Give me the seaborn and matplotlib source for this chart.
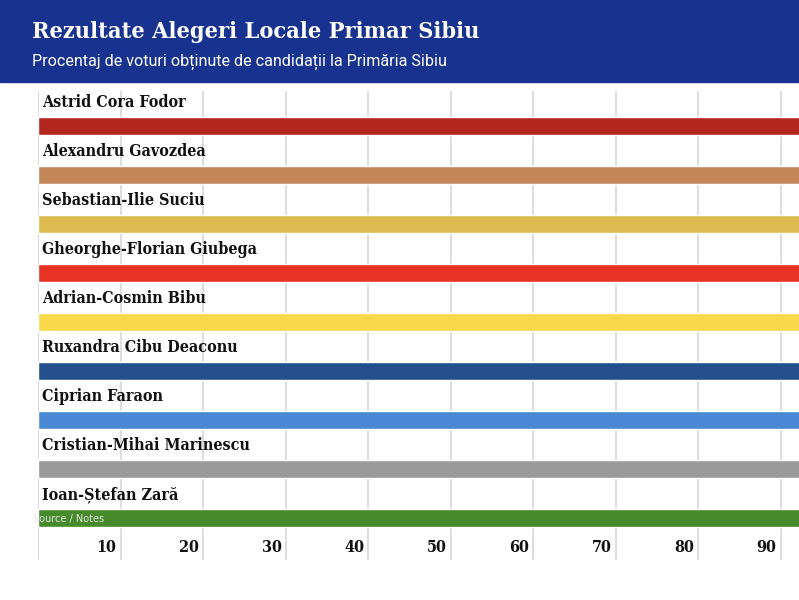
import matplotlib
matplotlib.use("Agg")
import matplotlib.pyplot as plt
import seaborn as sns
import pandas as pd
from matplotlib.transforms import offset_copy

candidates = ["Astrid Cora Fodor", "Alexandru Gavozdea", "Sebastian-Ilie Suciu",
              "Gheorghe-Florian Giubega", "Adrian-Cosmin Bibu", "Ruxandra Cibu Deaconu",
              "Ciprian Faraon", "Cristian-Mihai Marinescu", "Ioan-Ștefan Zară"]
# every bar runs past the right edge of the visible axis
votes = [100, 100, 100, 100, 100, 100, 100, 100, 100]
colors = ["#b3261e", "#c4875a", "#ddbb50", "#e83324", "#f9d84a",
          "#23508c", "#4a88d4", "#9a9a9a", "#458b2b"]
xticks = [10, 20, 30, 40, 50, 60, 70, 80, 90]

title = "Rezultate Alegeri Locale Primar Sibiu"
subtitle = "Procentaj de voturi obținute de candidații la Primăria Sibiu"
note = "Source / Notes"

df = pd.DataFrame({"name": candidates, "value": votes})

sns.set_theme(style="white")
fig = plt.figure(figsize=(7.99, 6.0), dpi=100)

# header band
fig.patches.append(plt.Rectangle((0, 1 - 82 / 600), 1, 82 / 600, transform=fig.transFigure,
                                 color="#17338f", zorder=0))
fig.text(32 / 799, 1 - 32 / 600, title, color="white", fontsize=16.8, fontweight="bold",
         family="DejaVu Serif", fontstretch="condensed", va="center", ha="left")
fig.text(32 / 799, 1 - 62 / 600, subtitle, color="white", fontsize=11.6,
         family="Roboto", va="center", ha="left")

ax = fig.add_axes([38 / 799, 40 / 600, 1 - 38 / 799, (560 - 91) / 600])
sns.barplot(data=df, y="name", x="value", hue="name", palette=colors, orient="h",
            width=0.37, legend=False, ax=ax, saturation=1, zorder=3)
ax.set_xlim(0, (799 - 38) / 82.5 * 10)
ax.set_ylim(8 + 0.857, -0.714)
for s in ax.spines.values():
    s.set_visible(False)
ax.set_xticks([])
ax.set_yticks([])
ax.set_xlabel("")
ax.set_ylabel("")

# gridlines (including 0)
for v in [0] + xticks:
    ax.axvline(v, color="#dddddd", lw=1.4, zorder=1)

for i, name in enumerate(candidates):
    ax.text(0.5, i - 0.47, name, fontsize=11.5, fontweight="bold", family="DejaVu Serif",
            fontstretch="condensed", color="#111111", va="center", ha="left", zorder=4)

tr = offset_copy(ax.transData, fig=fig, x=-4, y=0, units="dots")
for t in xticks:
    ax.text(t, 8.61, str(t), transform=tr, fontsize=11.5, fontweight="bold",
            family="DejaVu Serif", fontstretch="condensed", color="#111111",
            ha="right", va="center")

ax.text(-5 / 82.5 * 10, 8.02, note, fontsize=7, family="DejaVu Sans", color="#e4e4e4",
        ha="left", va="center", zorder=5, clip_on=False)

fig.savefig("out.png", dpi=100)
